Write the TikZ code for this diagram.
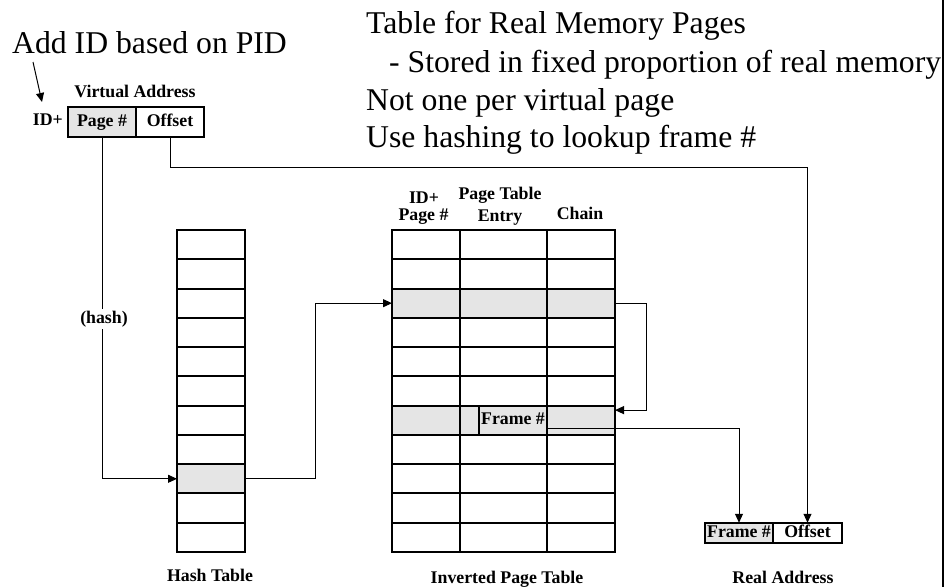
\documentclass[tikz,border=0pt]{standalone}
\usepackage{fontspec}
\setmainfont{Liberation Serif}
\usetikzlibrary{arrows.meta,calc}

\begin{document}
\begin{tikzpicture}[x=1pt,y=-1pt,
  cell/.style={draw,line width=2pt,minimum height=29.27pt,inner sep=0pt,outer sep=0pt},
  lbl/.style={font=\fontsize{17.8}{19}\selectfont\bfseries,inner sep=0pt},
  celltext/.style={lbl,text height=12pt,text depth=3.5pt},
  big/.style={font=\fontsize{31.7}{38}\selectfont,inner sep=0pt,anchor=base west},
  link/.style={line width=1pt},
  arr/.style={link,-{Triangle[length=9pt,width=8pt]}}]
\useasboundingbox (0,0) rectangle (948,587);

% notes at the top
\node[big] (addid) at (12,53) {Add ID based on PID};
\node[big] (t1) at (366,33) {Table for Real Memory Pages};
\node[big] (t2) at (389,72) {- Stored in fixed proportion of real memory};
\node[big] (t3) at (366,110) {Not one per virtual page};
\node[big] (t4) at (366,147) {Use hashing to lookup frame \#};
\draw[line width=2.5pt] (943,0) -- (943,587);

% virtual address
\node[lbl,anchor=base] (vatitle) at (135,97) {Virtual Address};
\node[lbl,anchor=base east] (idplus) at (63,125) {ID+};
\node[cell,minimum width=68pt,minimum height=30pt,fill=black!10,celltext] (vpage) at (102,122) {Page \#};
\node[cell,minimum width=68pt,minimum height=30pt,celltext] (voff) at (170,122) {Offset};
\coordinate (addtail) at (33,62);
\coordinate (idtip) at (42,102);
\draw[arr] (addtail) -- (idtip);

% hash table
\foreach \i in {0,...,10}{
  \ifnum\i=8 \def\shade{black!10}\else\def\shade{white}\fi
  \node[cell,minimum width=68pt,fill=\shade] (h\i) at (211,{230+(\i+0.5)*29.27}) {};
}

% inverted page table
\foreach \i in {0,...,10}{
  \ifnum\i=2 \def\shade{black!10}\else\ifnum\i=6 \def\shade{black!10}\else\def\shade{white}\fi\fi
  \node[cell,minimum width=68pt,fill=\shade] (pa\i) at (426,{230+(\i+0.5)*29.27}) {};
  \node[cell,minimum width=87pt,fill=\shade] (pb\i) at (503.5,{230+(\i+0.5)*29.27}) {};
  \node[cell,minimum width=68pt,fill=\shade] (pc\i) at (581,{230+(\i+0.5)*29.27}) {};
}
\node[cell,minimum width=68pt,fill=black!10,celltext] (frame) at (513,{230+6.5*29.27}) {Frame \#};

\node[lbl,anchor=base] (hid) at (424,203) {ID+};
\node[lbl,anchor=base] (hpg) at (423.5,220) {Page \#};
\node[lbl,anchor=base] (hpte) at (500,199) {Page Table};
\node[lbl,anchor=base] (hent) at (500,221) {Entry};
\node[lbl,anchor=base] (hch) at (580,219) {Chain};

% real address
\node[cell,minimum width=68pt,minimum height=20.5pt,fill=black!10,celltext] (rframe) at (739,533) {Frame \#};
\node[cell,minimum width=69pt,minimum height=20.5pt,celltext] (roff) at (807.5,533) {Offset};

% captions
\node[lbl,anchor=base] (capH) at (210,581) {Hash Table};
\node[lbl,anchor=base] (capI) at (507,583) {Inverted Page Table};
\node[lbl,anchor=base] (capR) at (783,583) {Real Address};

% connectors
\draw[arr] (vpage.south) -- (vpage.south |- h8.west) -- (h8.west);
\node[lbl,fill=white,inner sep=1.5pt] (hashlbl) at (104,319) {(hash)};

\coordinate (bendA) at (315,0);
\draw[arr] (h8.east) -- (h8.east -| bendA) -- (bendA |- pa2.west) -- (pa2.west);

\coordinate (bendB) at (646,0);
\coordinate (chainIn) at ($(pc6.north east)+(0,4.5)$);
\draw[arr] (pc2.east) -- (pc2.east -| bendB) -- (bendB |- chainIn) -- (chainIn);

\coordinate (frameOut) at ($(frame.south east)+(0,-6)$);
\draw[arr] (frameOut) -| (rframe.north);

\coordinate (bendC) at (0,167);
\draw[arr] (voff.south) -- (voff.south |- bendC) -| (roff.north);
\end{tikzpicture}
\end{document}
